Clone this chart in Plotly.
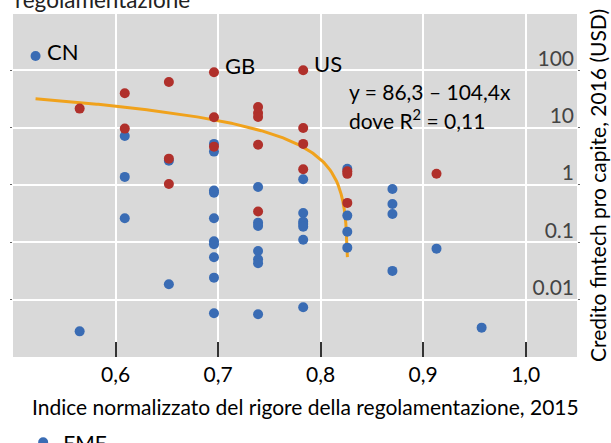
import math
import plotly.graph_objects as go

# ---- data ----
eme_x = [0.522, 0.565,
         0.609, 0.609, 0.609,
         0.652, 0.652,
         0.696, 0.696, 0.696, 0.696, 0.696, 0.696, 0.696, 0.696, 0.696, 0.696,
         0.739, 0.739, 0.739, 0.739, 0.739, 0.739, 0.739,
         0.783, 0.783, 0.783, 0.783, 0.783, 0.783, 0.783,
         0.826, 0.826, 0.826, 0.826,
         0.870, 0.870, 0.870, 0.870,
         0.913, 0.957]
eme_y = [177, 0.0028,
         7.15, 1.38, 0.263,
         2.65, 0.0185,
         5.19, 3.81, 0.796, 0.734, 0.262, 0.104, 0.0925, 0.0548, 0.0242, 0.0058,
         0.923, 0.22, 0.193, 0.0706, 0.0506, 0.0431, 0.00556,
         1.26, 0.325, 0.229, 0.209, 0.187, 0.111, 0.00736,
         1.92, 0.292, 0.153, 0.0807,
         0.851, 0.466, 0.312, 0.0317,
         0.0775, 0.00325]

ae_x = [0.565,
        0.609, 0.609,
        0.652, 0.652, 0.652,
        0.696, 0.696, 0.696,
        0.739, 0.739, 0.739, 0.739, 0.739,
        0.783, 0.783, 0.783, 0.783,
        0.826, 0.826, 0.826,
        0.913]
ae_y = [21.4,
        39.7, 9.6,
        62.5, 2.87, 1.04,
        92, 15.1, 4.65,
        22.9, 18.0, 15.3, 5.0, 0.343,
        100, 9.86, 5.19, 1.88,
        1.73, 1.56, 0.486,
        1.57]

labels = ["CN", "GB", "US"]
label_x = [0.522, 0.696, 0.783]
label_y = [177, 92, 100]

# regression reported in the chart: y = 86,3 - 104,4x
reg_a = 86.3
reg_b = 104.4
reg_x_start = 0.522
reg_x_end = 0.8261

x_tickvals = [0.5, 0.6, 0.7, 0.8, 0.9, 1.0]
x_ticktext = ["", "0,6", "0,7", "0,8", "0,9", "1,0"]
y_tickvals = [0.01, 0.1, 1, 10, 100]
y_ticktext = ["0.01", "0.1", "1", "10", "100"]

# ---- figure ----
n = 200
trend_x = [reg_x_start + (reg_x_end - reg_x_start) * i / (n - 1) for i in range(n)]
trend_y = [reg_a - reg_b * v for v in trend_x]

FONT = "Lato"
FS = 21
fig = go.Figure()
fig.add_trace(go.Scatter(x=trend_x, y=trend_y, mode="lines",
                         line=dict(color="#F0A21C", width=3),
                         showlegend=False, hoverinfo="skip"))
fig.add_trace(go.Scatter(x=eme_x, y=eme_y, mode="markers", name="EME",
                         marker=dict(color="#3A6CB4", size=10)))
fig.add_trace(go.Scatter(x=ae_x, y=ae_y, mode="markers", name="AE",
                         marker=dict(color="#B0302B", size=10),
                         showlegend=False))

label_yshift = [4, 7, 7]
for t, lx, ly, ys in zip(labels, label_x, label_y, label_yshift):
    fig.add_annotation(x=lx, y=math.log10(ly), text=t, showarrow=False,
                       xanchor="left", yanchor="middle", xshift=9, yshift=ys,
                       font=dict(size=22, family=FONT, color="black"))

# regression text, two lines sharing a boundary
fig.add_annotation(x=0.8265, y=1.4124, xref="x", yref="y",
                   text="y = 86,3 – 104,4x",
                   showarrow=False, xanchor="left", yanchor="bottom", align="left",
                   borderpad=0, yshift=-1,
                   font=dict(size=FS, family=FONT, color="black"))
fig.add_annotation(x=0.8265, y=1.4124, xref="x", yref="y",
                   text="dove R<sup>2</sup> = 0,11",
                   showarrow=False, xanchor="left", yanchor="top", align="left",
                   borderpad=0,
                   font=dict(size=FS, family=FONT, color="black"))

# x-axis title (centred on the page, as in the reference)
fig.add_annotation(x=0.5186, y=0, xref="paper", yref="paper", xanchor="center", yanchor="middle",
                   yshift=-49.5, showarrow=False,
                   text="Indice normalizzato del rigore della regolamentazione, 2015",
                   font=dict(size=FS, family=FONT, color="black"))

fig.add_annotation(x=0, y=1, xref="paper", yref="paper", xanchor="left", yanchor="bottom",
                   text="regolamentazione", showarrow=False, yshift=-1,
                   font=dict(size=22.5, family=FONT, color="#222"))

fig.update_layout(
    width=611, height=443,
    margin=dict(l=13, r=34, t=14, b=86, autoexpand=False),
    plot_bgcolor="#D9D9D9", paper_bgcolor="white",
    font=dict(family=FONT, size=FS, color="black"),
    legend=dict(x=0.018, y=-0.19, xanchor="left", yanchor="top",
                bgcolor="rgba(0,0,0,0)", font=dict(size=FS)),
    xaxis=dict(range=[0.5, 1.05], tickvals=x_tickvals, ticktext=x_ticktext,
               automargin=False,
               showgrid=True, gridcolor="white", gridwidth=2, zeroline=False,
               ticks="inside", ticklen=15, tickwidth=2, tickcolor="#333",
               ticklabelstandoff=3),
    yaxis=dict(type="log", range=[-3.0, 2.98], side="right",
               automargin=False,
               tickvals=y_tickvals, ticktext=y_ticktext,
               showgrid=True, gridcolor="white", gridwidth=2, zeroline=False,
               ticklabelposition="inside", ticklabelshift=-12,
               ticks="outside", ticklen=2, tickcolor="#666", mirror="ticks",
               title=dict(text="Credito fintech pro capite, 2016 (USD)",
                          standoff=18, font=dict(size=FS))),
)

fig.write_html("out.html")
